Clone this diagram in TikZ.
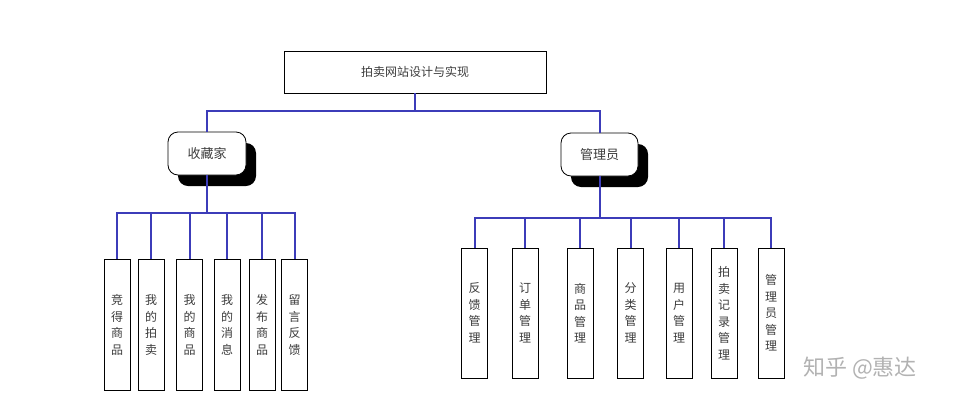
\documentclass[tikz,border=0pt]{standalone}
\usepackage{fontspec}
\newfontfamily\cjk{Noto Sans CJK SC}
\usepackage{xcolor}
\usetikzlibrary{shadows}
\definecolor{linkblue}{RGB}{60,60,185}
\definecolor{inkgray}{RGB}{60,60,60}
\tikzset{
  titlebox/.style={
    draw,minimum width=262pt,minimum height=42pt,line width=0.8pt,
    font=\cjk\fontsize{12}{14}\selectfont,text=inkgray
  },
  rolebox/.style={
    draw,fill=white,rounded corners=10pt,minimum height=43pt,line width=0.8pt,
    font=\cjk\fontsize{13}{15}\selectfont,text=inkgray,
    drop shadow={shadow xshift=10pt,shadow yshift=-11pt,fill=black,opacity=1}
  },
  funcbox/.style={
    draw,minimum width=26pt,inner sep=0pt,line width=1pt,align=center,
    font=\cjk\fontsize{12}{16.5}\selectfont,text=inkgray
  },
  link/.style={draw=linkblue,line width=2pt}
}
\begin{document}
\begin{tikzpicture}[x=1pt,y=-1pt]
  \useasboundingbox (0,0) rectangle (961,405);
  \node[titlebox] (site) at (415,72) {\raisebox{-5pt}{拍卖网站设计与实现}};
  \node[rolebox,minimum width=78pt] (collector) at (207,153.5) {收藏家};
  \node[rolebox,minimum width=77pt] (admin) at (599.5,154.5) {管理员};
  \draw[link] (site.south) -- ++(0,18) coordinate (hub) -| (collector.north);
  \draw[link] (hub) -| (admin.north);
  % collector functions
  \foreach \x/\t [count=\i] in {117/{竞\\得\\商\\品},151/{我\\的\\拍\\卖},
      189.5/{我\\的\\商\\品},227/{我\\的\\消\\息},262/{发\\布\\商\\品},294.5/{留\\言\\反\\馈}} {
    \node[funcbox,minimum height=131pt] (cf\i) at (\x,325) {\t};
    \draw[link] (collector.south) -- ++(0,38) -| (cf\i.north);
  }
  % admin functions
  \foreach \x/\t [count=\i] in {474.5/{反\\馈\\管\\理},525/{订\\单\\管\\理},
      580/{商\\品\\管\\理},630.5/{分\\类\\管\\理},679/{用\\户\\管\\理},
      724/{拍\\卖\\记\\录\\管\\理},771/{管\\理\\员\\管\\理}} {
    \node[funcbox,minimum height=130pt] (af\i) at (\x,313) {\t};
    \draw[link] (admin.south) -- ++(0,42) -| (af\i.north);
  }
  \node[text=black!30,font=\cjk\fontsize{22}{22}\selectfont] (mark) at (860,368) {知乎 @惠达};
\end{tikzpicture}
\end{document}
